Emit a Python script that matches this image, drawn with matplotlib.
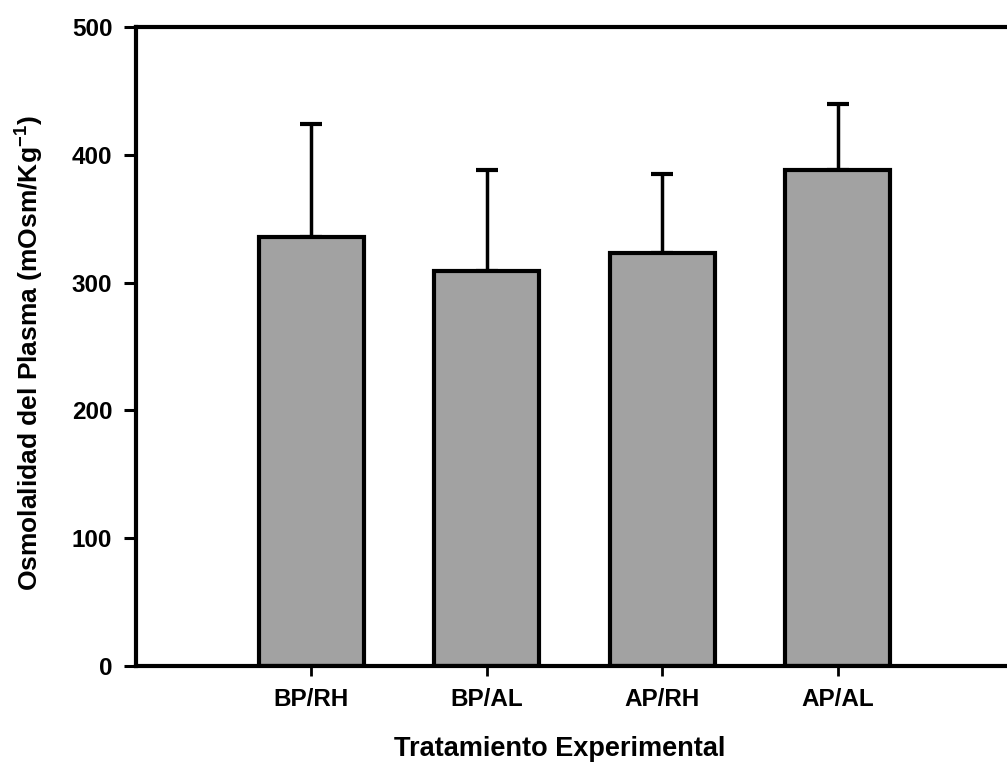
# Osmolalidad del plasma por tratamiento experimental
import matplotlib
matplotlib.use("Agg")
import matplotlib.pyplot as plt

plt.rcParams["font.family"] = ["Liberation Sans", "DejaVu Sans"]
plt.rcParams["font.weight"] = "bold"
plt.rcParams["mathtext.fontset"] = "custom"
plt.rcParams["mathtext.bf"] = "Liberation Sans:bold"
plt.rcParams["mathtext.rm"] = "Liberation Sans:bold"
plt.rcParams["mathtext.default"] = "bf"

# datos
tratamientos = ["BP/RH", "BP/AL", "AP/RH", "AP/AL"]
osmolalidad = [336, 309, 323, 388]
error_sup = [88, 79, 62, 52]
y_ticks = [0, 100, 200, 300, 400, 500]

x = list(range(1, len(tratamientos) + 1))

fig = plt.figure(figsize=(10.07, 7.72), dpi=100)
ax = fig.add_axes([0.135, 0.1373, 0.871, 0.8277])

ax.bar(x, osmolalidad, width=0.6, color="#a2a2a2", edgecolor="black",
       linewidth=3, zorder=2)
ax.errorbar(x, osmolalidad, yerr=[[0] * len(x), error_sup], fmt="none",
            ecolor="black", elinewidth=2.5, capsize=8, capthick=3, zorder=1)

ax.set_xlim(0, 5)
ax.set_ylim(0, 500)
ax.set_xticks(x)
ax.set_xticklabels(tratamientos)
ax.set_yticks(y_ticks)

for s in ["left", "top", "bottom"]:
    ax.spines[s].set_linewidth(3)
ax.spines["right"].set_visible(False)

ax.tick_params(axis="y", direction="out", length=9, width=2.2, pad=8,
               labelsize=17.5)
ax.tick_params(axis="x", direction="out", length=7, width=2, pad=9,
               labelsize=17.5)

ax.set_xlabel("Tratamiento Experimental", fontsize=19.5, fontweight="bold")
ax.set_ylabel("Osmolalidad del Plasma (mOsm/Kg$^{-1}$)", fontsize=19,
              fontweight="bold")
ax.xaxis.set_label_coords(0.483, -0.11)
ax.yaxis.set_label_coords(-0.103, 0.49)

fig.savefig("out.png", dpi=100)
